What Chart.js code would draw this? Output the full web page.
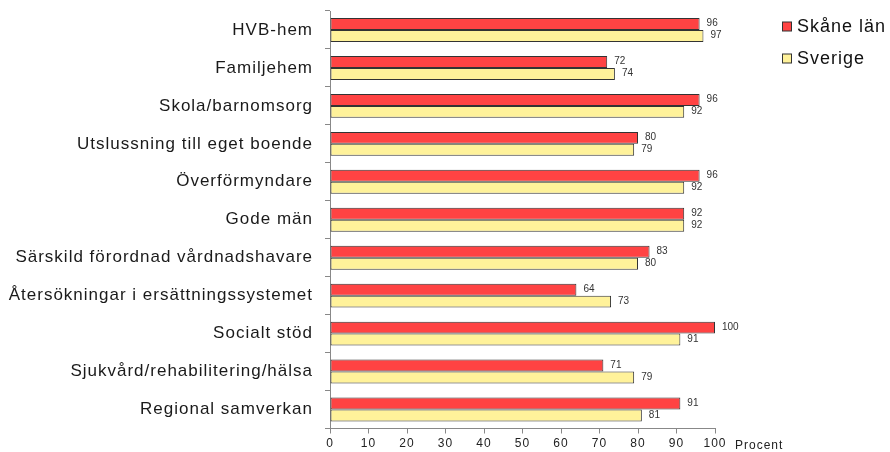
<!DOCTYPE html>
<html>
<head>
<meta charset="utf-8">
<script src="https://cdn.jsdelivr.net/npm/chart.js@4"></script>
<style>
html,body{margin:0;padding:0;background:#fff;}
#wrap{width:890px;height:452px;}
</style>
</head>
<body>
<div id="wrap"><canvas id="c" width="890" height="452"></canvas></div>
<script>
const categories = ["HVB-hem","Familjehem","Skola/barnomsorg","Utslussning till eget boende","Överförmyndare","Gode män","Särskild förordnad vårdnadshavare","Återsökningar i ersättningssystemet","Socialt stöd","Sjukvård/rehabilitering/hälsa","Regional samverkan"];
const skane = [96,72,96,80,96,92,83,64,100,71,91];
const sverige = [97,74,92,79,92,92,80,73,91,79,81];
const seriesNames = ["Skåne län","Sverige"];
const axisTitle = "Procent";

const RED = '#FF4343';
const YEL = '#FFF29A';
const FONT = 'Arial, "Liberation Sans", sans-serif';

const canvas = document.getElementById('c');

const extras = {
  id: 'extras',
  beforeDraw(chart) {
    chart.ctx.letterSpacing = '1px';
  },
  afterDatasetsDraw(chart) {
    const ctx = chart.ctx;
    ctx.save();
    ctx.font = '10px ' + FONT;
    ctx.fillStyle = '#333';
    ctx.textAlign = 'left';
    ctx.textBaseline = 'middle';
    ctx.letterSpacing = '0px';
    chart.data.datasets.forEach((ds, di) => {
      const meta = chart.getDatasetMeta(di);
      meta.data.forEach((el, i) => {
        ctx.fillText(String(ds.data[i]), el.x + 7, el.y - 0.5);
      });
    });
    ctx.restore();
  },
  afterDraw(chart) {
    const ctx = chart.ctx;
    ctx.save();
    ctx.letterSpacing = '1px';
    ctx.font = '12px ' + FONT;
    ctx.fillStyle = '#222';
    ctx.textBaseline = 'middle';
    ctx.textAlign = 'left';
    ctx.fillText(axisTitle, 735, 446);
    const cols = [RED, YEL];
    const ys = [26.5, 58.5];
    ctx.font = '18px ' + FONT;
    seriesNames.forEach((n, i) => {
      ctx.fillStyle = cols[i];
      ctx.fillRect(782.5, ys[i] - 4.5, 9, 9);
      ctx.strokeStyle = '#333';
      ctx.lineWidth = 1;
      ctx.strokeRect(782.5, ys[i] - 4.5, 9, 9);
      ctx.fillStyle = '#111';
      ctx.fillText(n, 797, ys[i] + 0.5);
    });
    ctx.restore();
  }
};

new Chart(canvas, {
  type: 'bar',
  data: {
    labels: categories,
    datasets: [
      { label: seriesNames[0], data: skane, backgroundColor: RED, borderColor: '#333', borderWidth: 1, borderSkipped: false },
      { label: seriesNames[1], data: sverige, backgroundColor: YEL, borderColor: '#333', borderWidth: 1, borderSkipped: false }
    ]
  },
  options: {
    indexAxis: 'y',
    responsive: false,
    animation: false,
    devicePixelRatio: 1,
    layout: { padding: { top: 11, right: 175, bottom: 0, left: 0 } },
    datasets: { bar: { categoryPercentage: 0.63, barPercentage: 1 } },
    plugins: { legend: { display: false }, tooltip: { enabled: false } },
    scales: {
      x: {
        min: 0, max: 100,
        ticks: { stepSize: 10, font: { size: 12, family: FONT }, color: '#222', padding: 3 },
        grid: { drawOnChartArea: false, drawTicks: true, tickLength: 5, color: '#888' },
        border: { color: '#888' },
        afterFit(s) { s.height = 23.5; s.paddingLeft = 0; s.paddingRight = 0; }
      },
      y: {
        ticks: { font: { size: 17, family: FONT }, color: '#1a1a1a', padding: 12 },
        grid: { offset: true, drawOnChartArea: false, drawTicks: true, tickLength: 5, color: '#888' },
        border: { color: '#888' },
        afterFit(s) { s.width = 330; s.paddingTop = 0; s.paddingBottom = 0; }
      }
    }
  },
  plugins: [extras]
});
</script>
</body>
</html>
